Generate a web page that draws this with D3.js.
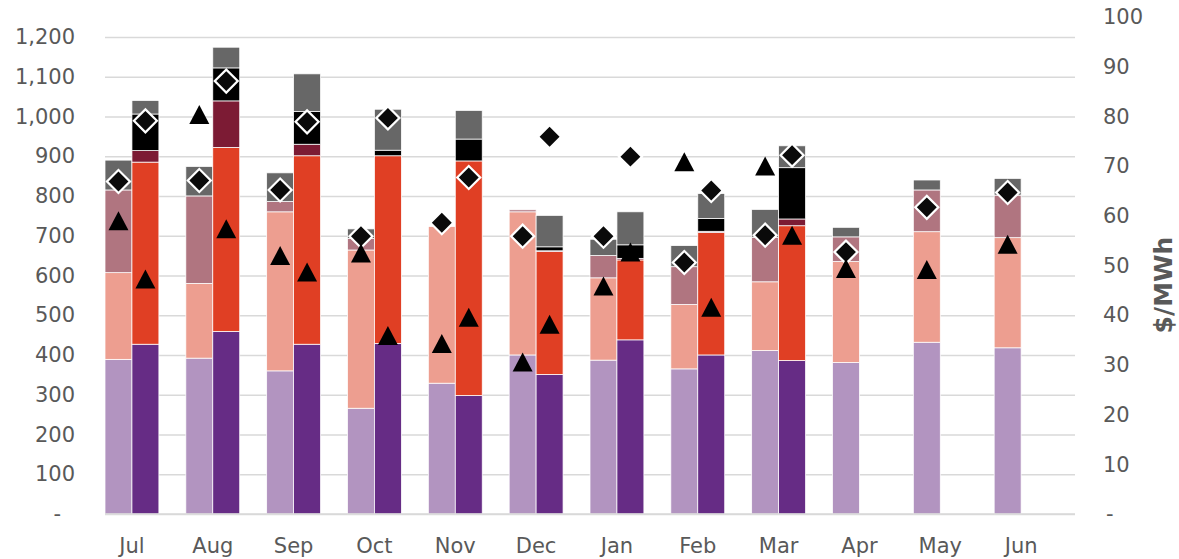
<!DOCTYPE html>
<html>
<head>
<meta charset="utf-8">
<script src="https://cdn.jsdelivr.net/npm/d3@7"></script>
<style>
  body { margin: 0; background: #fff; }
  text { font-family: "DejaVu Sans", sans-serif; fill: #595959; }
</style>
</head>
<body>
<svg width="1179" height="559"></svg>
<script>
// months of the financial year
const months = ['Jul', 'Aug', 'Sep', 'Oct', 'Nov', 'Dec', 'Jan', 'Feb', 'Mar', 'Apr', 'May', 'Jun'];

// previous year stack (left bar of each month)
const prevBase  = [389, 392, 360, 266, 329, 400, 387, 365, 411, 381, 432, 418];
const prevMid   = [218, 188, 400, 398, 394, 360, 207, 162, 173, 254, 278, 277];
const prevPeak  = [208, 220, 26, 29, 0, 5, 56, 95, 112, 62, 105, 107];
const prevTop   = [0, 0, 0, 0, 0, 0, 0, 0, 0, 0, 0, 0];
const prevOther = [75, 74, 72, 24, 0, 0, 41, 53, 70, 24, 25, 42];

// current year stack (right bar, Jul - Mar only)
const currBase  = [427, 459, 427, 429, 298, 351, 438, 400, 386];
const currMid   = [458, 463, 474, 472, 590, 309, 201, 308, 339];
const currPeak  = [29, 117, 29, 0, 0, 2, 4, 3, 17];
const currTop   = [92, 83, 82, 14, 55, 10, 34, 32, 129];
const currOther = [34, 52, 95, 103, 72, 79, 83, 63, 55];

// prices, $/MWh (right axis)
const prevDiamond  = [66.9, 67.1, 65.2, 55.9, 58.6, 55.9, 55.9, 50.6, 56.1, 52.7, 61.7, 64.7];
const prevTriangle = [59.0, 80.4, 52.0, 52.5, 34.3, 30.6, 45.9, 70.9, 70.0, 49.4, 49.2, 54.3];
const currDiamond  = [79.1, 87.1, 78.9, 79.7, 67.7, 75.9, 71.9, 65.1, 72.2];
const currTriangle = [47.3, 57.4, 48.7, 35.9, 39.6, 38.2, 52.7, 41.6, 56.1];

const leftTicks = d3.range(0, 1201, 100);
const rightTicks = d3.range(0, 101, 10);

const keys = ['base', 'mid', 'peak', 'top', 'other'];
const prevColors = ['#b294c0', '#ed9e90', '#b07580', '#000000', '#676767'];
const currColors = ['#662c85', '#e03f24', '#7c1b34', '#000000', '#676767'];

const svg = d3.select('svg');

const x0 = d3.scaleBand().domain(months).range([105, 1075]);
const x1 = d3.scaleBand().domain(['prev', 'curr', 'gap']).range([0, x0.bandwidth()]);
const yL = d3.scaleLinear().domain([0, 1250]).range([514, 17]);
const yR = d3.scaleLinear().domain([0, 100]).range([514, 17]);

// gridlines + left labels
const gl = svg.append('g')
    .attr('transform', 'translate(105,0)')
    .call(d3.axisLeft(yL).tickValues(leftTicks)
        .tickSize(-970).tickPadding(30)
        .tickFormat(d => d === 0 ? '-' : d3.format(',')(d)));
gl.select('.domain').remove();
gl.selectAll('line').attr('stroke', '#d9d9d9').attr('stroke-width', 1.5);
gl.selectAll('text').style('font-size', '21px');
gl.selectAll('.tick').filter(d => d === 0).select('text').attr('x', -44);

// right axis labels
const gr = svg.append('g')
    .attr('transform', 'translate(1075,0)')
    .call(d3.axisRight(yR).tickValues(rightTicks)
        .tickSize(0).tickPadding(28)
        .tickFormat(d => d === 0 ? '-' : d));
gr.select('.domain').remove();
gr.selectAll('text').style('font-size', '21px');
gr.selectAll('.tick').filter(d => d === 0).select('text').attr('x', 31);

svg.append('text')
    .attr('transform', 'translate(1163,285) rotate(-90)')
    .attr('text-anchor', 'middle')
    .attr('dominant-baseline', 'central')
    .style('font-size', '25px')
    .style('font-weight', 'bold')
    .text('$/MWh');

// build rows for stacks
let prevRows = months.map((m, i) => ({
    month: m, base: prevBase[i], mid: prevMid[i], peak: prevPeak[i], top: prevTop[i], other: prevOther[i]
}));
let currRows = currBase.map((v, i) => ({
    month: months[i], base: currBase[i], mid: currMid[i], peak: currPeak[i], top: currTop[i], other: currOther[i]
}));

let stack = d3.stack().keys(keys);

function drawBars(rows, slot, colors) {
    svg.append('g')
        .selectAll('g')
        .data(stack(rows))
        .enter()
        .append('g')
        .attr('fill', (d, i) => colors[i])
        .selectAll('rect')
        .data(d => d.filter(s => s[1] - s[0] > 0))
        .enter()
        .append('rect')
        .attr('x', d => x0(d.data.month) + x1(slot))
        .attr('width', x1.bandwidth())
        .attr('y', d => yL(d[1]))
        .attr('height', d => yL(d[0]) - yL(d[1]))
        .attr('stroke', '#fff')
        .attr('stroke-width', 0.75);
}
drawBars(prevRows, 'prev', prevColors);
drawBars(currRows, 'curr', currColors);

// baseline
svg.append('line')
    .attr('x1', 105).attr('x2', 1075)
    .attr('y1', yL(0)).attr('y2', yL(0))
    .attr('stroke', '#d9d9d9').attr('stroke-width', 1.5);

// triangle centred on its bounding box, like the spreadsheet marker
const boxTriangle = {
    draw: function (ctx, size) {
        let w = Math.sqrt(size * 2 / 0.95);
        let h = w * 0.95;
        ctx.moveTo(0, -h / 2);
        ctx.lineTo(w / 2, h / 2);
        ctx.lineTo(-w / 2, h / 2);
        ctx.closePath();
    }
};

function drawDiamonds(values, slot) {
    svg.append('g')
        .selectAll('path')
        .data(values.map((v, i) => ({month: months[i], v: v})))
        .enter()
        .append('path')
        .attr('d', d3.symbol().type(d3.symbolSquare).size(265))
        .attr('transform', d => 'translate(' + (x0(d.month) + x1(slot) + x1.bandwidth() / 2) + ',' + yR(d.v) + ') rotate(45)')
        .attr('fill', '#0a0a0a')
        .attr('stroke', '#fff')
        .attr('stroke-width', 2.2);
}

function drawTriangles(values, slot) {
    svg.append('g')
        .selectAll('path')
        .data(values.map((v, i) => ({month: months[i], v: v})))
        .enter()
        .append('path')
        .attr('d', d3.symbol().type(boxTriangle).size(190))
        .attr('transform', d => 'translate(' + (x0(d.month) + x1(slot) + x1.bandwidth() / 2) + ',' + yR(d.v) + ')')
        .attr('fill', '#000');
}

drawDiamonds(prevDiamond, 'prev');
drawDiamonds(currDiamond, 'curr');
drawTriangles(prevTriangle, 'prev');
drawTriangles(currTriangle, 'curr');

// month labels sit between the two bars
svg.append('g')
    .selectAll('text')
    .data(months)
    .enter()
    .append('text')
    .attr('x', d => x0(d) + x1.bandwidth())
    .attr('y', 553)
    .attr('text-anchor', 'middle')
    .style('font-size', '21px')
    .text(d => d);
</script>
</body>
</html>
